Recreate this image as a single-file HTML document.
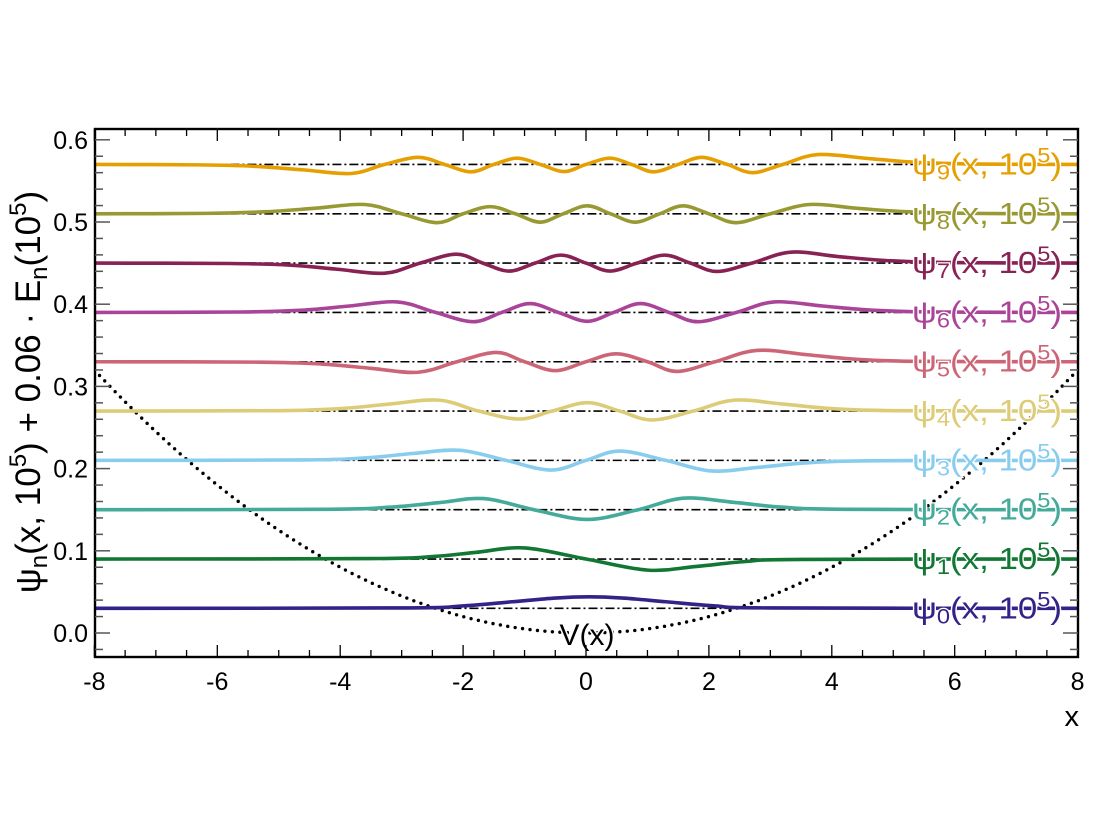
<!DOCTYPE html>
<html><head><meta charset="utf-8"><style>
html,body{margin:0;padding:0;background:#fff;}
svg{display:block;font-family:"Liberation Sans",sans-serif;}
</style></head><body>
<svg id="chart" width="1111" height="833" viewBox="0 0 1111 833" xmlns="http://www.w3.org/2000/svg">
<defs><clipPath id="clip"><rect x="95" y="129" width="983" height="528"/></clipPath></defs>
<g id="plot" clip-path="url(#clip)"></g>
<g id="labels"></g>
<g id="axes"></g>
</svg>
<script>
const energies = [0.03,0.09,0.15,0.21,0.27,0.33,0.39,0.45,0.51,0.57];
const colors = ["#332288","#117733","#44AA99","#88CCEE","#DDCC77","#CC6677","#AA4499","#882255","#999933","#E69F00"];
const psiX0=[-8,-3,-2,-1.2,-0.5,0.05,0.6,1.3,2.1,3,8];
const psiV0=[0,.0005,.003,.008,.0125,.014,.0125,.008,.003,.0005,0];
const psiX1=[-8,-3.5,-2.5,-1.8,-1,0,1,1.8,2.6,3.5,8];
const psiV1=[0,.0005,.003,.008,.0135,0,-.0135,-.009,-.003,-.0005,0];
const psiX2=[-8,-4.2,-3.2,-2.4,-1.66,-0.85,0.02,0.85,1.58,2.4,3.2,4.2,8];
const psiV2=[0,.0005,.003,.0085,.0135,0,-.0118,0,.014,.009,.003,.0005,0];
const psiX3=[-8,-4.6,-3.6,-2.8,-2.05,-1.3,-0.57,0,0.55,1.3,2.03,2.8,3.6,4.6,8];
const psiV3=[0,.0005,.003,.0085,.0123,0,-.0118,0,.0113,0,-.0128,-.0085,-.003,-.0005,0];
const psiX4=[-8,-5,-4,-3.2,-2.39,-1.75,-1.09,-0.55,0.02,0.55,1.07,1.75,2.41,3.2,4,5,8];
const psiV4=[0,.0005,.003,.0085,.0133,0,-.0097,0,.0102,0,-.0108,0,.0133,.0085,.003,.0005,0];
const psiX5=[-8,-5.3,-4.3,-3.5,-2.73,-2.1,-1.46,-1,-0.5,0,0.49,1,1.48,2.1,2.78,3.6,4.4,5.4,8];
const psiV5=[0,-.0005,-.0028,-.008,-.0128,0,.0113,0,-.0108,0,.0097,0,-.0118,0,.0138,.0085,.003,.0005,0];
const psiX6=[-8,-5.6,-4.6,-3.85,-3.07,-2.45,-1.84,-1.37,-0.91,-0.45,0.02,0.45,0.89,1.35,1.82,2.45,3.06,3.85,4.65,5.7,8];
const psiV6=[0,.0005,.0028,.0078,.0128,0,-.0113,0,.0108,0,-.0108,0,.0108,0,-.0113,0,.0128,.0078,.0028,.0005,0];
const psiX7=[-8,-5.8,-4.8,-4.05,-3.27,-2.7,-2.11,-1.68,-1.25,-0.83,-0.41,0,0.39,0.83,1.28,1.7,2.13,2.7,3.33,4.1,4.9,5.9,8];
const psiV7=[0,-.0005,-.0025,-.0075,-.0123,0,.0108,0,-.0097,0,.0097,0,-.0097,0,.0097,0,-.0102,0,.0133,.008,.003,.0006,0];
const psiX8=[-8,-6.2,-5.2,-4.4,-3.6,-3.0,-2.42,-2.0,-1.56,-1.15,-0.75,-0.37,0.02,0.4,0.8,1.2,1.58,2.0,2.44,3.0,3.64,4.4,5.2,6.2,8];
const psiV8=[0,.0005,.0025,.0068,.0113,0,-.0108,0,.0087,0,-.0102,0,.0097,0,-.0102,0,.0097,0,-.0108,0,.0113,.0068,.0025,.0005,0];
const psiX9=[-8,-6.3,-5.4,-4.6,-3.82,-3.28,-2.73,-2.3,-1.87,-1.5,-1.12,-0.74,-0.36,0,0.39,0.74,1.1,1.5,1.88,2.3,2.71,3.2,3.77,4.6,5.4,6.4,8];
const psiV9=[0,-.0005,-.0022,-.0066,-.011,0,.0087,0,-.009,0,.0077,0,-.0087,0,.0077,0,-.009,0,.0087,0,-.010,0,.012,.0072,.0025,.0005,0];
const xTicks=[-8,-6,-4,-2,0,2,4,6,8];
const xTickLabels=["-8","-6","-4","-2","0","2","4","6","8"];
const yTicks=[0,0.1,0.2,0.3,0.4,0.5,0.6];
const yTickLabels=["0.0","0.1","0.2","0.3","0.4","0.5","0.6"];
const potentialK=0.005;

const NS="http://www.w3.org/2000/svg";
const L=95,R=1078,T=129,B=657;
const sx=x=>586+61.45*x;
const sy=v=>633-822*v;
function mk(tag,attrs,parent){const e=document.createElementNS(NS,tag);for(const k in attrs)e.setAttribute(k,attrs[k]);parent.appendChild(e);return e;}
function spline(pts){let d="M"+pts[0][0].toFixed(2)+","+pts[0][1].toFixed(2);
 for(let i=0;i<pts.length-1;i++){const p0=pts[Math.max(i-1,0)],p1=pts[i],p2=pts[i+1],p3=pts[Math.min(i+2,pts.length-1)];
  const c1=[p1[0]+(p2[0]-p0[0])/6,p1[1]+(p2[1]-p0[1])/6],c2=[p2[0]-(p3[0]-p1[0])/6,p2[1]-(p3[1]-p1[1])/6];
  d+=" C"+c1[0].toFixed(2)+","+c1[1].toFixed(2)+" "+c2[0].toFixed(2)+","+c2[1].toFixed(2)+" "+p2[0].toFixed(2)+","+p2[1].toFixed(2);}
 return d;}
const plot=document.getElementById('plot'),labels=document.getElementById('labels'),axes=document.getElementById('axes');
const PX=[psiX0,psiX1,psiX2,psiX3,psiX4,psiX5,psiX6,psiX7,psiX8,psiX9];
const PV=[psiV0,psiV1,psiV2,psiV3,psiV4,psiV5,psiV6,psiV7,psiV8,psiV9];
let vp=[];for(let x=-8;x<=8.001;x+=0.1)vp.push(sx(x).toFixed(1)+","+sy(potentialK*x*x).toFixed(1));
const pot=mk('polyline',{points:vp.join(" "),fill:"none",stroke:"#000","stroke-width":3.4,"stroke-dasharray":"0 7.5","stroke-linecap":"round"},plot);


energies.forEach((E,n)=>{
 const xt=Math.min(Math.sqrt(E/potentialK),8);
 const ln=mk('line',{x1:sx(-xt),x2:sx(xt),y1:sy(E),y2:sy(E),stroke:"#000","stroke-width":1.6,"stroke-dasharray":"9 3 2 3"},plot);
 
 
});
energies.forEach((E,n)=>{
 const pts=PX[n].map((x,i)=>[sx(x),sy(E+PV[n][i])]);
 const p=mk('path',{d:spline(pts),fill:"none",stroke:colors[n],"stroke-width":3.6},plot);
 
 
 const t=mk('text',{x:912,y:sy(E)+10,fill:colors[n],"font-size":31,stroke:"#fff","stroke-width":2.5,"paint-order":"stroke",textLength:150,lengthAdjust:"spacingAndGlyphs"},labels);
 
 
 t.innerHTML='ψ<tspan font-size="21" dy="5">'+n+'</tspan><tspan dy="-5">(x, 10</tspan><tspan font-size="21" dy="-12">5</tspan><tspan dy="12">)</tspan>';
});
const vl=mk('text',{x:587,y:645,"text-anchor":"middle","font-size":30,fill:"#000",stroke:"#fff","stroke-width":3,"paint-order":"stroke"},labels);


vl.textContent="V(x)";
const fr=mk('rect',{x:L,y:T,width:R-L,height:B-T,fill:"none",stroke:"#000","stroke-width":2.4},axes);


for(let k=-16;k<=16;k++){const x=k*0.5,len=(k%4===0)?12:7;
 mk('line',{x1:sx(x),x2:sx(x),y1:B,y2:B-len,stroke:"#000","stroke-width":1.3},axes);
 mk('line',{x1:sx(x),x2:sx(x),y1:T,y2:T+len,stroke:"#000","stroke-width":1.3},axes);}
xTicks.forEach((x,i)=>{const t=mk('text',{x:sx(x),y:690,"text-anchor":"middle","font-size":25,fill:"#000"},axes);
 
 
 t.textContent=xTickLabels[i];});
for(let k=-1;k<=30;k++){const v=k*0.02;const y=sy(v);if(y<T||y>B)continue;const len=(k%5===0)?15:8;
 mk('line',{x1:L,x2:L+len,y1:y,y2:y,stroke:"#555","stroke-width":1.5},axes);
 mk('line',{x1:R,x2:R-len,y1:y,y2:y,stroke:"#555","stroke-width":1.5},axes);}
yTicks.forEach((v,i)=>{const t=mk('text',{x:88,y:sy(v)+9,"text-anchor":"end","font-size":25,fill:"#000"},axes);
 
 
 t.textContent=yTickLabels[i];});
const xt=mk('text',{x:1079,y:726,"text-anchor":"end","font-size":29,fill:"#000"},axes);


xt.textContent="x";
const yt=mk('text',{x:0,y:0,"text-anchor":"middle","font-size":35,fill:"#000",transform:"translate(40,392) rotate(-90)"},axes);


yt.innerHTML='ψ<tspan font-size="24" dy="7">n</tspan><tspan dy="-7">(x, 10</tspan><tspan font-size="24" dy="-14">5</tspan><tspan dy="14">) + 0.06 · E</tspan><tspan font-size="24" dy="7">n</tspan><tspan dy="-7">(10</tspan><tspan font-size="24" dy="-14">5</tspan><tspan dy="14">)</tspan>';
</script>
</body></html>
